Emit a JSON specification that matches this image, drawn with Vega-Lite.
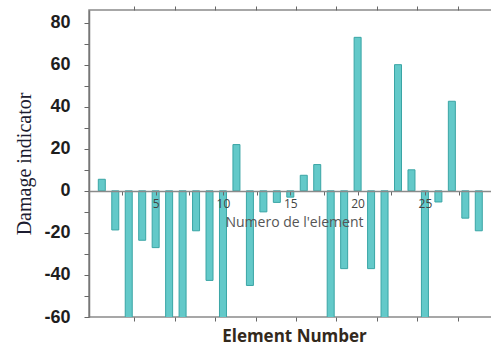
{
  "$schema": "https://vega.github.io/schema/vega-lite/v6.json",
  "width": 410,
  "height": 307,
  "autosize": "none",
  "padding": {"left": 89, "top": 10, "right": 0, "bottom": 34},
  "background": "white",
  "config": {
    "view": {"stroke": "#8a8a8a", "strokeWidth": 1.5},
    "axis": {"grid": false}
  },
  "data": {
    "values": [
      {"element": 1, "damage": 5.5},
      {"element": 2, "damage": -18.6},
      {"element": 3, "damage": -65},
      {"element": 4, "damage": -23.5},
      {"element": 5, "damage": -27},
      {"element": 6, "damage": -65},
      {"element": 7, "damage": -65},
      {"element": 8, "damage": -19},
      {"element": 9, "damage": -42.6},
      {"element": 10, "damage": -65},
      {"element": 11, "damage": 22},
      {"element": 12, "damage": -45},
      {"element": 13, "damage": -10},
      {"element": 14, "damage": -5.5},
      {"element": 15, "damage": -3},
      {"element": 16, "damage": 7.4},
      {"element": 17, "damage": 12.5},
      {"element": 18, "damage": -65},
      {"element": 19, "damage": -37},
      {"element": 20, "damage": 73},
      {"element": 21, "damage": -37},
      {"element": 22, "damage": -65},
      {"element": 23, "damage": 60},
      {"element": 24, "damage": 10},
      {"element": 25, "damage": -65},
      {"element": 26, "damage": -5.3},
      {"element": 27, "damage": 42.6},
      {"element": 28, "damage": -13},
      {"element": 29, "damage": -19}
    ]
  },
  "resolve": {"axis": {"x": "independent", "y": "independent"}},
  "layer": [
    {
      "mark": {"type": "bar", "width": 7, "fill": "#63c9c9", "stroke": "#3aa5a5", "strokeWidth": 1, "clip": true},
      "encoding": {
        "x": {
          "field": "element",
          "type": "quantitative",
          "scale": {"domain": [0.42, 30.13], "nice": false, "zero": false},
          "axis": {
            "orient": "bottom",
            "offset": -126,
            "zindex": 1,
            "values": [2.5, 5, 7.5, 10, 12.5, 15, 17.5, 20, 22.5, 25, 27.5],
            "labelExpr": "datum.value % 5 == 0 ? datum.label : ''",
            "domainColor": "#8a8a8a",
            "domainWidth": 1.5,
            "tickColor": "#666",
            "tickSize": 4,
            "labelFont": "Open Sans",
            "labelFontSize": 12,
            "labelColor": "#444",
            "labelPadding": 3,
            "title": "Numero de l'element",
            "titleFont": "Open Sans",
            "titleFontSize": 14,
            "titleFontWeight": "normal",
            "titleColor": "#555",
            "titlePadding": 6
          }
        },
        "y": {
          "field": "damage",
          "type": "quantitative",
          "scale": {"domain": [-60, 86], "nice": false},
          "axis": {
            "values": [-60, -50, -40, -30, -20, -10, 0, 10, 20, 30, 40, 50, 60, 70, 80],
            "labelExpr": "datum.value % 20 == 0 ? toString(datum.value) : ''",
            "domainColor": "#777",
            "domainWidth": 1.5,
            "tickColor": "#666",
            "tickSize": 5,
            "labelFont": "Liberation Sans",
            "labelFontWeight": "bold",
            "labelFontSize": 18,
            "labelColor": "#1e1e1e",
            "labelPadding": 14,
            "title": "Damage indicator",
            "titleFont": "Liberation Serif",
            "titleFontWeight": "normal",
            "titleFontSize": 20,
            "titleColor": "#1c1c30",
            "titlePadding": 9
          }
        }
      }
    },
    {
      "mark": {"type": "bar", "width": 7, "opacity": 0},
      "encoding": {
        "x": {
          "field": "element",
          "type": "quantitative",
          "axis": {
            "orient": "bottom",
            "values": [3.42, 6.42, 9.42, 12.42, 15.42, 18.42, 21.42, 24.42, 27.42],
            "labels": false,
            "domain": false,
            "tickColor": "#666",
            "tickSize": 4,
            "title": "Element Number",
            "titleFont": "Open Sans",
            "titleFontWeight": "bold",
            "titleFontSize": 17,
            "titleColor": "#33291c",
            "titlePadding": 7
          }
        },
        "y": {"field": "damage", "type": "quantitative", "axis": null}
      }
    },
    {
      "mark": {"type": "bar", "width": 7, "opacity": 0},
      "encoding": {
        "x": {
          "field": "element",
          "type": "quantitative",
          "axis": {
            "orient": "top",
            "values": [3.42, 6.42, 9.42, 12.42, 15.42, 18.42, 21.42, 24.42, 27.42],
            "labels": false,
            "domain": false,
            "tickColor": "#666",
            "tickSize": 4,
            "title": null
          }
        },
        "y": {"field": "damage", "type": "quantitative", "axis": null}
      }
    }
  ]
}
